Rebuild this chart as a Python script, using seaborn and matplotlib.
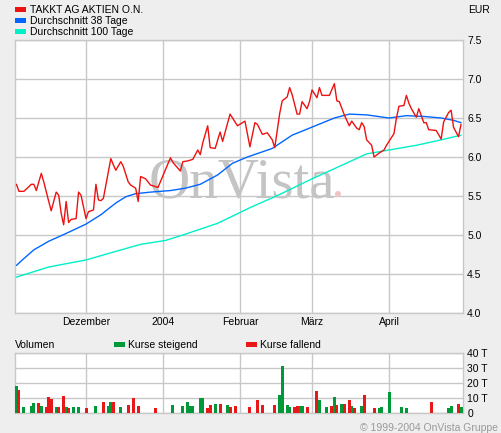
import matplotlib
matplotlib.use("Agg")
import matplotlib.pyplot as plt
import matplotlib.dates as mdates
from matplotlib.patches import Rectangle, Ellipse
import pandas as pd
import seaborn as sns

# ---------------- data ----------------
price_dates = ["2003-11-03", "2003-11-04", "2003-11-06", "2003-11-09", "2003-11-10", "2003-11-11", "2003-11-13",
               "2003-11-14", "2003-11-16", "2003-11-17", "2003-11-19", "2003-11-20", "2003-11-21", "2003-11-22",
               "2003-11-23", "2003-11-24", "2003-11-25", "2003-11-27", "2003-11-28", "2003-11-29",
               "2003-12-01", "2003-12-02", "2003-12-04", "2003-12-05", "2003-12-06", "2003-12-07", "2003-12-08",
               "2003-12-11", "2003-12-12", "2003-12-13", "2003-12-15", "2003-12-16", "2003-12-18", "2003-12-19",
               "2003-12-21", "2003-12-22", "2003-12-23", "2003-12-25", "2003-12-27", "2003-12-30",
               "2004-01-04", "2004-01-05", "2004-01-08", "2004-01-09", "2004-01-11", "2004-01-13", "2004-01-15",
               "2004-01-16", "2004-01-17", "2004-01-19", "2004-01-20", "2004-01-22", "2004-01-24", "2004-01-25",
               "2004-01-28", "2004-01-31",
               "2004-02-03", "2004-02-05", "2004-02-07", "2004-02-08", "2004-02-10", "2004-02-12", "2004-02-14",
               "2004-02-15", "2004-02-17", "2004-02-18", "2004-02-20", "2004-02-21", "2004-02-22", "2004-02-24",
               "2004-02-25", "2004-02-26", "2004-02-28", "2004-02-29",
               "2004-03-01", "2004-03-03", "2004-03-04", "2004-03-05", "2004-03-08", "2004-03-10", "2004-03-11",
               "2004-03-12", "2004-03-14", "2004-03-16", "2004-03-17", "2004-03-19", "2004-03-20", "2004-03-21",
               "2004-03-22", "2004-03-23", "2004-03-25", "2004-03-26", "2004-03-28", "2004-03-30", "2004-03-31",
               "2004-04-03", "2004-04-04", "2004-04-05", "2004-04-07", "2004-04-08", "2004-04-09", "2004-04-10",
               "2004-04-12", "2004-04-13", "2004-04-15", "2004-04-16", "2004-04-17", "2004-04-20", "2004-04-22",
               "2004-04-23", "2004-04-25", "2004-04-26", "2004-04-27", "2004-04-29", "2004-04-30"]
price_values = [5.65, 5.56, 5.56, 5.65, 5.65, 5.57, 5.79, 5.68, 5.43, 5.31, 5.55, 5.51, 5.28, 5.13, 5.43, 5.16,
                5.20, 5.21, 5.55, 5.51,
                5.21, 5.30, 5.32, 5.65, 5.45, 5.44, 5.47, 5.98, 5.90, 5.83, 5.94, 5.88, 5.68, 5.64, 5.60, 5.43,
                5.75, 5.72, 5.64, 5.61,
                5.99, 5.93, 5.82, 5.94, 5.95, 5.97, 6.09, 6.03, 6.18, 6.40, 6.12, 6.11, 6.32, 6.20, 6.55, 6.40,
                6.46, 6.13, 6.44, 6.42, 6.29, 6.31, 6.22, 6.12, 6.56, 6.72, 6.77, 6.89, 6.80, 6.55, 6.55, 6.71,
                6.62, 6.71,
                6.86, 6.76, 6.89, 6.79, 6.79, 6.94, 6.72, 6.71, 6.54, 6.40, 6.46, 6.37, 6.35, 6.44, 6.39, 6.22,
                6.15, 6.00, 6.05, 6.09, 6.15,
                6.30, 6.50, 6.65, 6.66, 6.79, 6.69, 6.62, 6.51, 6.62, 6.44, 6.44, 6.35, 6.34, 6.23, 6.45, 6.57,
                6.60, 6.38, 6.26, 6.42]

ma38_dates = ["2003-11-03", "2003-11-05", "2003-11-10", "2003-11-16", "2003-11-23", "2003-12-01", "2003-12-07",
              "2003-12-13", "2003-12-17", "2003-12-21", "2003-12-27", "2004-01-04", "2004-01-10", "2004-01-16",
              "2004-01-23", "2004-01-29", "2004-02-04", "2004-02-14", "2004-02-22", "2004-02-29", "2004-03-10",
              "2004-03-16", "2004-03-23", "2004-04-01", "2004-04-08", "2004-04-15", "2004-04-22", "2004-04-27",
              "2004-04-30"]
ma38_values = [4.61, 4.67, 4.81, 4.92, 5.02, 5.14, 5.26, 5.41, 5.49, 5.53, 5.55, 5.57, 5.60, 5.65, 5.77, 5.92,
               6.00, 6.11, 6.28, 6.37, 6.50, 6.55, 6.54, 6.50, 6.53, 6.52, 6.50, 6.47, 6.44]

ma100_dates = ["2003-11-03", "2003-11-16", "2003-12-01", "2003-12-13", "2003-12-23", "2004-01-02", "2004-01-09",
               "2004-01-23", "2004-02-05", "2004-02-17", "2004-03-01", "2004-03-10", "2004-03-23", "2004-04-01",
               "2004-04-12", "2004-04-22", "2004-04-30"]
ma100_values = [4.46, 4.59, 4.68, 4.79, 4.88, 4.93, 5.00, 5.15, 5.35, 5.52, 5.72, 5.85, 6.04, 6.09, 6.15, 6.22,
                6.28]

vol_dates = ["2003-11-03", "2003-11-04", "2003-11-06", "2003-11-09", "2003-11-10", "2003-11-12", "2003-11-13",
             "2003-11-15", "2003-11-16", "2003-11-17", "2003-11-19", "2003-11-20", "2003-11-22", "2003-11-23",
             "2003-11-24", "2003-11-26", "2003-11-28",
             "2003-12-01", "2003-12-05", "2003-12-08", "2003-12-10", "2003-12-11", "2003-12-12", "2003-12-15",
             "2003-12-18", "2003-12-20", "2003-12-22", "2003-12-29",
             "2004-01-05", "2004-01-09", "2004-01-11", "2004-01-12", "2004-01-13", "2004-01-16", "2004-01-17",
             "2004-01-19", "2004-01-20", "2004-01-22", "2004-01-24", "2004-01-27", "2004-01-28", "2004-01-30",
             "2004-02-05", "2004-02-08", "2004-02-10", "2004-02-15", "2004-02-17", "2004-02-18", "2004-02-20",
             "2004-02-21", "2004-02-23", "2004-02-24", "2004-02-25", "2004-02-26", "2004-02-28",
             "2004-03-03", "2004-03-04", "2004-03-07", "2004-03-09", "2004-03-10", "2004-03-11", "2004-03-13",
             "2004-03-14", "2004-03-16", "2004-03-17", "2004-03-18", "2004-03-21", "2004-03-22", "2004-03-26",
             "2004-03-28", "2004-03-29",
             "2004-04-01", "2004-04-06", "2004-04-08", "2004-04-18", "2004-04-25", "2004-04-26", "2004-04-29",
             "2004-04-30"]
vol_values = [18, 15.5, 4, 5, 6.7, 6.7, 5, 4, 10.9, 9.5, 4, 4, 11.3, 4, 3.3, 4, 4,
              3.3, 4.6, 7.3, 4.6, 7.8, 7.3, 4, 5.8, 10.4, 4.6, 3.3,
              5.8, 4.6, 7.8, 4.6, 5, 10.4, 10.4, 3.3, 5.8, 6.4, 6.4, 5.8, 4, 4.6,
              4, 8.9, 5.8, 5.8, 12.2, 31.6, 5.8, 4, 4, 4.6, 4.6, 4.6, 4,
              14.9, 8.9, 4, 4.6, 10.9, 5.8, 6.4, 6.4, 8.9, 4.6, 3.3, 4.6, 12.2, 3.3, 3.3, 4,
              14.2, 4, 3.3, 7.3, 3.3, 4.6, 6.4, 4]
vol_dir = ["up", "down", "up", "up", "up", "down", "up", "down", "down", "down", "up", "down", "down", "up",
           "down", "up", "up",
           "down", "up", "down", "up", "up", "down", "up", "down", "down", "down", "down",
           "up", "up", "up", "up", "up", "up", "up", "down", "down", "up", "down", "up", "down", "down",
           "down", "down", "down", "down", "up", "up", "up", "up", "down", "down", "up", "up", "down",
           "down", "up", "up", "down", "up", "down", "up", "down", "down", "up", "down", "up", "down", "down",
           "up", "up",
           "up", "up", "up", "down", "up", "up", "down", "up"]

month_ticks = ["2003-12-01", "2004-01-01", "2004-02-01", "2004-03-01", "2004-04-01"]
month_labels = ["Dezember", "2004", "Februar", "März", "April"]
price_ticks = [4.0, 4.5, 5.0, 5.5, 6.0, 6.5, 7.0, 7.5]
vol_ticks = [0, 10, 20, 30, 40]
vol_tick_labels = ["0", "10 T", "20 T", "30 T", "40 T"]

series_labels = ["TAKKT AG AKTIEN O.N.", "Durchschnitt 38 Tage", "Durchschnitt 100 Tage"]
vol_labels = ["Kurse steigend", "Kurse fallend"]

# ---------------- style ----------------
sns.set_theme(style="white")
plt.rcParams["font.family"] = ["Liberation Sans", "DejaVu Sans"]

W, H = 501, 433
BG = "#EEEEEE"
GRID = "#C8C8C8"
RED = "#EE1111"
BLUE = "#0066FF"
CYAN = "#00F0C8"
VGREEN = "#00993A"
VRED = "#E81818"
FS = 7.5

fig = plt.figure(figsize=(W / 100, H / 100), dpi=100, facecolor=BG)


def fx(px):
    return px / W


def fy(py):
    return 1 - py / H


ax = fig.add_axes([fx(15), fy(313), fx(448), 273 / H])
axv = fig.add_axes([fx(15), fy(413.3), fx(448), 60.3 / H])

# x range: Dec 1 at px 86, Apr 1 at px 389
d_dec = mdates.date2num(pd.Timestamp("2003-12-01"))
d_apr = mdates.date2num(pd.Timestamp("2004-04-01"))
ppd = (389 - 86) / (d_apr - d_dec)
xlim = (d_dec - (86 - 15) / ppd, d_dec + (463 - 86) / ppd)

price_df = pd.DataFrame({"date": pd.to_datetime(price_dates), "value": price_values})
ma38_df = pd.DataFrame({"date": pd.to_datetime(ma38_dates), "value": ma38_values})
ma100_df = pd.DataFrame({"date": pd.to_datetime(ma100_dates), "value": ma100_values})

for df, col in [(ma100_df, CYAN), (ma38_df, BLUE), (price_df, RED)]:
    sns.lineplot(data=df, x="date", y="value", ax=ax, color=col, lw=1.0, zorder=3)

ax.set_xlim(*xlim)
ax.set_ylim(4.0, 7.5)
ax.set_facecolor("white")
ax.set_xlabel("")
ax.set_ylabel("")
ax.set_axisbelow(True)
ax.set_xticks(mdates.date2num(pd.to_datetime(month_ticks)))
ax.set_xticklabels(month_labels, fontsize=FS, color="#000000")
ax.set_yticks(price_ticks)
ax.set_yticklabels([f"{t:.1f}" for t in price_ticks], fontsize=FS, color="#000000")
ax.yaxis.tick_right()
ax.tick_params(axis="both", length=0, pad=3)
ax.grid(True, color=GRID, lw=1.0)
for s in ax.spines.values():
    s.set_color(GRID)
    s.set_linewidth(1.0)

# watermark
ax.text(fx(149), fy(197), "OnVista", transform=fig.transFigure, fontsize=41,
        family=["Liberation Serif", "DejaVu Serif"], color="#C4C4C4", ha="left", va="baseline", zorder=1.5)
ax.add_artist(Ellipse((fx(338), fy(194)), 6 / W, 6 / H, transform=fig.transFigure,
                      facecolor="#F0C4C4", edgecolor="none", zorder=1.5))

# volume
vol_df = pd.DataFrame({"date": mdates.date2num(pd.to_datetime(vol_dates)), "vol": vol_values, "dir": vol_dir})
bar_w = 3 / ppd
for d, c in [("up", VGREEN), ("down", VRED)]:
    sub = vol_df[vol_df["dir"] == d]
    axv.bar(sub["date"], sub["vol"], width=bar_w, color=c, lw=0, zorder=3)
axv.set_xlim(*xlim)
axv.set_ylim(0, 40)
axv.set_facecolor("white")
axv.set_axisbelow(True)
axv.set_xticks(mdates.date2num(pd.to_datetime(month_ticks)))
axv.set_xticklabels([])
axv.set_yticks(vol_ticks)
axv.set_yticklabels(vol_tick_labels, fontsize=FS, color="#000000")
axv.yaxis.tick_right()
axv.tick_params(axis="both", length=0, pad=3)
axv.grid(True, color=GRID, lw=1.0)
for s in axv.spines.values():
    s.set_color(GRID)
    s.set_linewidth(1.0)

# legends / texts
for i, (lab, col) in enumerate(zip(series_labels, [RED, BLUE, CYAN])):
    y0 = 7.3 + 11 * i
    fig.add_artist(Rectangle((fx(15), fy(y0 + 5)), 11 / W, 5 / H, transform=fig.transFigure,
                             facecolor=col, edgecolor="none"))
    fig.text(fx(30), fy(12.7 + 11 * i), lab, fontsize=FS, color="#000000", ha="left", va="baseline")

fig.text(fx(490), fy(12.7), "EUR", fontsize=FS, color="#000000", ha="right", va="baseline")

fig.text(fx(15), fy(348.3), "Volumen", fontsize=FS, color="#000000", ha="left", va="baseline")
fig.add_artist(Rectangle((fx(114), fy(347.3)), 11 / W, 5 / H, transform=fig.transFigure,
                         facecolor=VGREEN, edgecolor="none"))
fig.text(fx(128.5), fy(348.3), vol_labels[0], fontsize=FS, color="#000000", ha="left", va="baseline")
fig.add_artist(Rectangle((fx(246), fy(347.3)), 11 / W, 5 / H, transform=fig.transFigure,
                         facecolor=VRED, edgecolor="none"))
fig.text(fx(260.5), fy(348.3), vol_labels[1], fontsize=FS, color="#000000", ha="left", va="baseline")

fig.text(fx(498), fy(431), "© 1999-2004 OnVista Gruppe", fontsize=FS, color="#999999",
         ha="right", va="baseline")

fig.savefig("out.png", dpi=100, facecolor=BG)
